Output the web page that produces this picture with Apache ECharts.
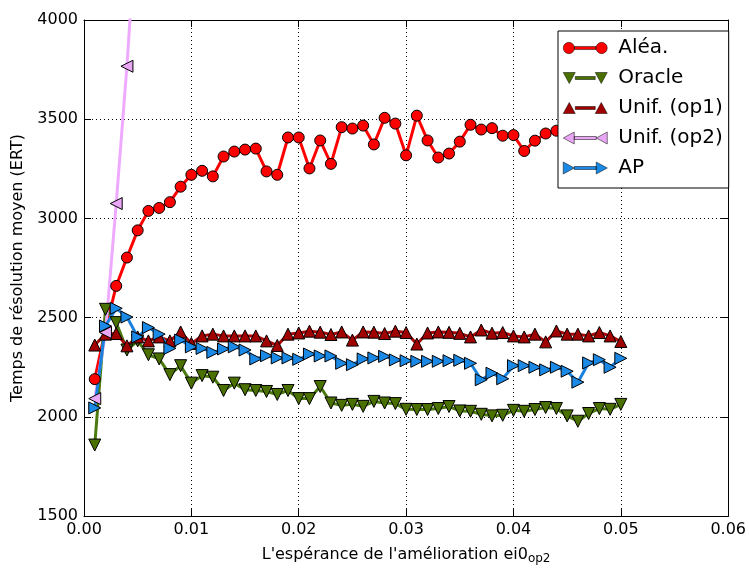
<!DOCTYPE html>
<html>
<head>
<meta charset="utf-8">
<script src="https://cdn.jsdelivr.net/npm/echarts@6/dist/echarts.min.js"></script>
<style>html,body{margin:0;padding:0;background:#fff}#c{width:749px;height:570px}</style>
</head>
<body>
<div id="c"></div>
<script>
const xs = [0.001,0.002,0.003,0.004,0.005,0.006,0.007,0.008,0.009,0.010,
  0.011,0.012,0.013,0.014,0.015,0.016,0.017,0.018,0.019,0.020,
  0.021,0.022,0.023,0.024,0.025,0.026,0.027,0.028,0.029,0.030,
  0.031,0.032,0.033,0.034,0.035,0.036,0.037,0.038,0.039,0.040,
  0.041,0.042,0.043,0.044,0.045,0.046,0.047,0.048,0.049,0.050];
const alea = [2190,2440,2660,2803,2940,3038,3053,3082,3160,3220,
  3240,3212,3312,3337,3347,3352,3237,3220,3408,3408,
  3252,3393,3275,3460,3453,3468,3373,3507,3478,3318,
  3518,3393,3307,3327,3387,3472,3448,3455,3417,3420,
  3340,3392,3428,3442,3460,3430,3480,3450,3470,3440];
const oracle = [1858,2542,2475,2337,2383,2313,2292,2213,2258,2170,
  2208,2200,2133,2170,2137,2133,2128,2113,2133,2092,
  2092,2153,2070,2058,2063,2053,2078,2070,2067,2038,
  2037,2037,2042,2052,2030,2028,2013,2005,2008,2033,
  2028,2037,2047,2042,2005,1978,2017,2042,2038,2063];
const unif1 = [2362,2417,2420,2358,2403,2383,2403,2383,2428,2370,
  2408,2417,2408,2408,2408,2408,2383,2360,2417,2423,
  2432,2427,2415,2428,2387,2428,2427,2420,2432,2425,
  2367,2423,2428,2426,2421,2403,2438,2422,2425,2408,
  2403,2417,2378,2433,2417,2417,2408,2425,2408,2380];
const unif2 = [2092,2425,3075,3767,4600];
const ap = [2045,2458,2547,2503,2403,2450,2417,2345,2387,2353,
  2345,2325,2342,2353,2337,2292,2308,2297,2297,2290,
  2317,2307,2307,2270,2263,2292,2297,2305,2287,2283,
  2280,2280,2280,2283,2285,2270,2187,2220,2192,2258,
  2258,2250,2237,2250,2230,2175,2272,2288,2250,2295];
const names = ['Aléa.','Oracle','Unif. (op1)','Unif. (op2)','AP'];
const xTicks = ['0.00','0.01','0.02','0.03','0.04','0.05','0.06'];
const yTicks = ['1500','2000','2500','3000','3500','4000'];

const F = 'DejaVu Sans';
function pairs(v){ return v.map((y,i)=>[xs[i],y]); }

const icons = {
  circle: 'path://M0.5,6 A5.5,5.5 0 1,1 11.5,6 A5.5,5.5 0 1,1 0.5,6 Z M11.5,4.5 L32.5,4.5 L32.5,7.5 L11.5,7.5 Z M32.5,6 A5.5,5.5 0 1,1 43.5,6 A5.5,5.5 0 1,1 32.5,6 Z',
  down: 'path://M0,0.5 L12,0.5 L6,11.5 Z M12,4.5 L32,4.5 L32,7.5 L12,7.5 Z M32,0.5 L44,0.5 L38,11.5 Z',
  up: 'path://M0,11.5 L12,11.5 L6,0.5 Z M12,4.5 L32,4.5 L32,7.5 L12,7.5 Z M32,11.5 L44,11.5 L38,0.5 Z',
  left: 'path://M0,6 L11,0 L11,12 Z M11,4.5 L33,4.5 L33,7.5 L11,7.5 Z M33,6 L44,0 L44,12 Z',
  right: 'path://M0,0 L11,6 L0,12 Z M11,4.5 L33,4.5 L33,7.5 L11,7.5 Z M33,0 L44,6 L33,12 Z'
};

function mk(name, data, color, symbol, rot, size, lineColor){
  return {
    name, type:'line', data: pairs(data),
    symbol, symbolSize:size, symbolRotate:rot,
    showAllSymbol:true, clip:true, animation:false,
    lineStyle:{color: lineColor||color, width:3},
    itemStyle:{color, borderColor:'#000', borderWidth:1}
  };
}

const chart = echarts.init(document.getElementById('c'));
chart.setOption({
  animation:false,
  backgroundColor:'#fff',
  grid:{left:84, right:19, top:20, bottom:50},
  legend:{
    orient:'vertical', left:558, top:31,
    padding:[7,6,10,5], itemGap:10,
    itemWidth:44, itemHeight:12,
    backgroundColor:'#fff', borderColor:'#000', borderWidth:1,
    itemStyle:{borderColor:'#000', borderWidth:0.5},
    textStyle:{fontFamily:F, fontSize:20, color:'#000', lineHeight:20, padding:[0,0,0,6]},
    data:[
      {name:names[0], icon:icons.circle},
      {name:names[1], icon:icons.down},
      {name:names[2], icon:icons.up},
      {name:names[3], icon:icons.left},
      {name:names[4], icon:icons.right}
    ]
  },
  xAxis:[{
    type:'value', min:0, max:0.06, interval:0.01, position:'bottom',
    name:"{a|L'espérance de l'amélioration ei0}{s|op2}",
    nameLocation:'middle', nameGap:26,
    nameTextStyle:{rich:{
      a:{fontFamily:F, fontSize:16, color:'#000', verticalAlign:'top', lineHeight:18},
      s:{fontFamily:F, fontSize:12, color:'#000', verticalAlign:'bottom', padding:[10,0,0,0], lineHeight:12}
    }},
    axisLine:{show:true, onZero:false, lineStyle:{color:'#000', width:1}},
    axisTick:{show:true, inside:true, length:7, lineStyle:{color:'#000'}},
    axisLabel:{fontFamily:F, fontSize:16, color:'#000', margin:6,
      formatter:(v)=>xTicks[Math.round(v*100)]},
    splitLine:{show:true, lineStyle:{color:'#000', type:[1,3], width:1}}
  },{
    type:'value', min:0, max:0.06, interval:0.01, position:'top',
    axisLine:{show:true, onZero:false, lineStyle:{color:'#000', width:1}},
    axisTick:{show:true, inside:true, length:7, lineStyle:{color:'#000'}},
    axisLabel:{show:false}, splitLine:{show:false}
  }],
  yAxis:[{
    type:'value', min:1500, max:4000, interval:500, position:'left',
    name:'Temps de résolution moyen (ERT)', nameLocation:'middle', nameGap:58, nameRotate:90,
    nameTextStyle:{fontFamily:F, fontSize:16, color:'#000'},
    axisLine:{show:true, onZero:false, lineStyle:{color:'#000', width:1}},
    axisTick:{show:true, inside:true, length:7, lineStyle:{color:'#000'}},
    axisLabel:{fontFamily:F, fontSize:16, color:'#000', margin:6,
      formatter:(v)=>yTicks[Math.round((v-1500)/500)]},
    splitLine:{show:true, lineStyle:{color:'#000', type:[1,3], width:1}}
  },{
    type:'value', min:1500, max:4000, interval:500, position:'right',
    axisLine:{show:true, onZero:false, lineStyle:{color:'#000', width:1}},
    axisTick:{show:true, inside:true, length:7, lineStyle:{color:'#000'}},
    axisLabel:{show:false}, splitLine:{show:false}
  }],
  series:[
    mk(names[0], alea, '#ff0000', 'circle', 0, 11),
    mk(names[1], oracle, '#4a7000', 'triangle', 180, 12, '#4a7a10'),
    mk(names[2], unif1, '#a00000', 'triangle', 0, 12, '#a80808'),
    mk(names[3], unif2, '#e8a6f4', 'triangle', 90, 12, '#eeaaff'),
    mk(names[4], ap, '#1a8ae6', 'triangle', -90, 12, '#1a80dd')
  ]
});
</script>
</body>
</html>
